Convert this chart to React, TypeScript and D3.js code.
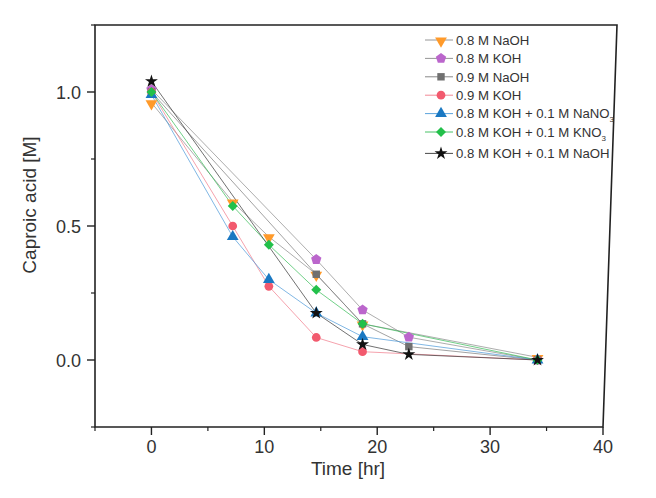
import React from "react";
import * as d3 from "d3";

const seriesNames = [
  "0.8 M NaOH",
  "0.8 M KOH",
  "0.9 M NaOH",
  "0.9 M KOH",
  "0.8 M KOH + 0.1 M NaNO",
  "0.8 M KOH + 0.1 M KNO",
  "0.8 M KOH + 0.1 M NaOH",
];
const nameSubs = ["", "", "", "", "3", "3", ""];

const naoh08Time = [0, 7.2, 10.4, 14.6, 18.7, 34.2];
const naoh08Val = [0.96, 0.59, 0.46, 0.32, 0.135, 0.01];
const koh08Time = [0, 14.6, 18.7, 22.8, 34.2];
const koh08Val = [1.01, 0.375, 0.187, 0.085, 0.0];
const naoh09Time = [0, 14.6, 18.7, 22.8, 34.2];
const naoh09Val = [1.0, 0.32, 0.135, 0.05, 0.0];
const koh09Time = [0, 7.2, 10.4, 14.6, 18.7, 34.2];
const koh09Val = [1.0, 0.5, 0.275, 0.084, 0.031, 0.0];
const nano3Time = [0, 7.2, 10.4, 14.6, 18.7, 34.2];
const nano3Val = [0.99, 0.46, 0.3, 0.175, 0.087, 0.0];
const kno3Time = [0, 7.2, 10.4, 14.6, 18.7, 34.2];
const kno3Val = [1.0, 0.575, 0.43, 0.262, 0.135, 0.0];
const kohNaohTime = [0, 14.6, 18.7, 22.8, 34.2];
const kohNaohVal = [1.04, 0.175, 0.058, 0.021, 0.0];

const times = [naoh08Time, koh08Time, naoh09Time, koh09Time, nano3Time, kno3Time, kohNaohTime];
const vals = [naoh08Val, koh08Val, naoh09Val, koh09Val, nano3Val, kno3Val, kohNaohVal];

const markerColors = ["#ff9a2a", "#bb66cc", "#707070", "#f25a6e", "#1a78c2", "#22c04a", "#111111"];
const lineColors = ["#8a8a8a", "#8a8a8a", "#7a7a7a", "#f07a8a", "#4a98d8", "#33bb55", "#333333"];

const symbolPentagon = {
  draw(context: any, size: number) {
    const r = Math.sqrt(size / 2.378);
    for (let k = 0; k < 5; k++) {
      const a = -Math.PI / 2 + (k * 2 * Math.PI) / 5;
      const px = r * Math.cos(a);
      const py = r * Math.sin(a);
      if (k === 0) context.moveTo(px, py);
      else context.lineTo(px, py);
    }
    context.closePath();
  },
};

const symbols: any[] = [
  d3.symbolTriangle,
  symbolPentagon,
  d3.symbolSquare,
  d3.symbolCircle,
  d3.symbolTriangle,
  d3.symbolSquare,
  d3.symbolStar,
];
const symbolSizes = [60, 70, 55, 60, 60, 50, 52];
const symbolRot = [180, 0, 0, 0, 0, 45, 0];

const xTicks = [0, 10, 20, 30, 40];
const xMinor = [-5, 5, 15, 25, 35];
const yTicks = [0.0, 0.5, 1.0];
const yMinor = [-0.25, 0.25, 0.75, 1.25];

const W = 656;
const H = 498;
const L = 95, R = 603, T = 25, B = 427;
const font = "'Liberation Sans', Arial, sans-serif";

export default function App() {
  const x = d3.scaleLinear().domain([-5, 40]).range([L, R]);
  const y = d3.scaleLinear().domain([-0.25, 1.25]).range([B, T]);
  const line = d3
    .line<[number, number]>()
    .x((d) => x(d[0]))
    .y((d) => y(d[1]));

  const legX = 425;
  const legY0 = 40;
  const legDy = 18.4;
  const dyOf = (i: number) => (symbolRot[i] === 180 ? 1 : 0);

  return (
    <svg width={W} height={H} style={{ position: "absolute", left: 0, top: 0 }} fontFamily={font}>
      <rect width={W} height={H} fill="#fff" />
      {times.map((ts, i) => (
        <path
          key={"l" + i}
          d={line(ts.map((t, j) => [t, vals[i][j]]) as [number, number][]) || ""}
          fill="none"
          stroke={lineColors[i]}
          strokeWidth={0.7}
        />
      ))}
      {times.map((ts, i) =>
        ts.map((t, j) => (
          <path
            key={"m" + i + "-" + j}
            d={d3.symbol().type(symbols[i]).size(symbolSizes[i])() || ""}
            transform={`translate(${x(t)},${y(vals[i][j]) + dyOf(i)}) rotate(${symbolRot[i]})`}
            fill={markerColors[i]}
          />
        ))
      )}
      <path
        d={`M${L},${B} L${L},${T} L617,${T} L${R},${B} Z`}
        fill="none"
        stroke="#222"
        strokeWidth={1.6}
      />
      {xTicks.map((t) => (
        <g key={"xt" + t}>
          <line x1={x(t)} x2={x(t)} y1={B} y2={B + 8} stroke="#222" strokeWidth={1.4} />
          <text x={x(t)} y={453} fontSize={18} textAnchor="middle" fill="#333">
            {t}
          </text>
        </g>
      ))}
      {xMinor.map((t) => (
        <line key={"xm" + t} x1={x(t)} x2={x(t)} y1={B} y2={B + 4} stroke="#222" strokeWidth={1.2} />
      ))}
      {yTicks.map((t) => (
        <g key={"yt" + t}>
          <line x1={L - 8} x2={L} y1={y(t)} y2={y(t)} stroke="#222" strokeWidth={1.4} />
          <text x={81} y={y(t) + 6.5} fontSize={18} textAnchor="end" fill="#333">
            {t.toFixed(1)}
          </text>
        </g>
      ))}
      {yMinor.map((t) => (
        <line key={"ym" + t} x1={L - 4} x2={L} y1={y(t)} y2={y(t)} stroke="#222" strokeWidth={1.2} />
      ))}
      <text x={348} y={475} fontSize={19} textAnchor="middle" fill="#333">
        Time [hr]
      </text>
      <text
        transform={`translate(36,205) rotate(-90)`}
        fontSize={19}
        textAnchor="middle"
        fill="#333"
      >
        Caproic acid [M]
      </text>
      {seriesNames.map((name, i) => {
        const cy = legY0 + i * legDy + (i === 6 ? 3 : 0);
        return (
          <g key={"lg" + i}>
            <line x1={legX} x2={legX + 28} y1={cy} y2={cy} stroke={lineColors[i]} strokeWidth={0.9} />
            <path
              d={d3.symbol().type(symbols[i]).size(symbolSizes[i])() || ""}
              transform={`translate(${legX + 16},${cy + dyOf(i)}) rotate(${symbolRot[i]})`}
              fill={markerColors[i]}
            />
            <text x={legX + 31} y={cy + 4.7} fontSize={13.2} fill="#333">
              {name}
              {nameSubs[i] && (
                <tspan fontSize={8} dy={4}>
                  {nameSubs[i]}
                </tspan>
              )}
            </text>
          </g>
        );
      })}
    </svg>
  );
}
